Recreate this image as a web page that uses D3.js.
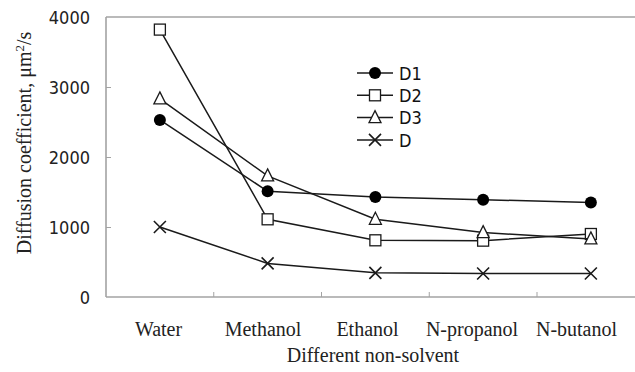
<!DOCTYPE html>
<html>
<head>
<meta charset="utf-8">
<script src="https://cdn.jsdelivr.net/npm/d3@7"></script>
<style>
  html, body { margin: 0; padding: 0; background: #fff; }
  svg { display: block; }
</style>
</head>
<body>
<svg id="chart" width="635" height="372"></svg>
<script>
// Non-solvents on the x axis
const categories = ["Water", "Methanol", "Ethanol", "N-propanol", "N-butanol"];
// Diffusion coefficients (µm²/s) for each series
const seriesD1 = [2530, 1510, 1430, 1390, 1350];
const seriesD2 = [3820, 1110, 810, 805, 900];
const seriesD3 = [2830, 1730, 1110, 920, 830];
const seriesD  = [1000, 480, 345, 335, 335];
const seriesNames = ["D1", "D2", "D3", "D"];
const yTicks = [0, 1000, 2000, 3000, 4000];

const series = [
  { name: seriesNames[0], values: seriesD1, symbol: "circle" },
  { name: seriesNames[1], values: seriesD2, symbol: "square" },
  { name: seriesNames[2], values: seriesD3, symbol: "triangle" },
  { name: seriesNames[3], values: seriesD,  symbol: "cross" }
];

const svg = d3.select("#chart");
const plotLeft = 106, plotTop = 17, plotBottom = 297;
const band = 107.75;

// Category bands (the plot runs past the right edge of the canvas)
const xBand = d3.scaleBand().domain(categories).range([plotLeft, plotLeft + band * categories.length]);
const x = d3.scalePoint().domain(categories).range([xBand("Water") + band / 2, xBand("N-butanol") + band / 2]);
const xLabel = d3.scalePoint().domain(categories).range([158, 576]);
const y = d3.scaleLinear().domain([0, 4000]).range([plotBottom, plotTop]);

const frame = "#a3a3a3";
const ink = "#1a1a1a";

// Plot frame: left, top and bottom edges
svg.append("line").attr("x1", plotLeft).attr("x2", 635).attr("y1", plotTop).attr("y2", plotTop)
  .attr("stroke", frame).attr("stroke-width", 1.6);
svg.append("line").attr("x1", plotLeft).attr("x2", 635).attr("y1", plotBottom).attr("y2", plotBottom)
  .attr("stroke", frame).attr("stroke-width", 1.6);
svg.append("line").attr("x1", plotLeft).attr("x2", plotLeft).attr("y1", plotTop).attr("y2", plotBottom)
  .attr("stroke", frame).attr("stroke-width", 1.6);

// Y axis: inward ticks and labels
const yAxis = svg.append("g").attr("transform", `translate(${plotLeft},0)`)
  .call(d3.axisLeft(y).tickValues(yTicks).tickFormat(d3.format("d")).tickSize(-5).tickPadding(16));
yAxis.select(".domain").remove();
yAxis.selectAll(".tick line").attr("stroke", frame).attr("stroke-width", 1)
  .filter(d => d === 0 || d === 4000).remove();
yAxis.selectAll(".tick text")
  .attr("font-family", "'DejaVu Sans Condensed', 'DejaVu Sans', sans-serif")
  .attr("font-size", 18).attr("fill", "#222").attr("dy", "0.38em");

// X axis: tick marks between categories
const bandEdges = categories.slice(1).map(c => xBand(c));
svg.append("g").selectAll("line").data(bandEdges).join("line")
  .attr("x1", d => d).attr("x2", d => d)
  .attr("y1", plotBottom).attr("y2", plotBottom - 5)
  .attr("stroke", frame).attr("stroke-width", 1);

// X axis category labels
const xAxis = svg.append("g").attr("transform", `translate(0,${plotBottom})`)
  .call(d3.axisBottom(xLabel).tickSize(0).tickPadding(25));
xAxis.select(".domain").remove();
xAxis.selectAll(".tick text")
  .attr("font-family", "'Liberation Serif', 'Times New Roman', serif")
  .attr("font-size", 20).attr("fill", "#222");

// Axis titles
svg.append("text")
  .attr("x", 373).attr("y", 362)
  .attr("text-anchor", "middle")
  .attr("font-family", "'Liberation Serif', 'Times New Roman', serif")
  .attr("font-size", 20).attr("fill", "#222")
  .text("Different non-solvent");

const yTitle = svg.append("text")
  .attr("transform", "translate(31,143) rotate(-90)")
  .attr("text-anchor", "middle")
  .attr("font-family", "'Liberation Serif', 'Times New Roman', serif")
  .attr("font-size", 20).attr("fill", "#222");
yTitle.append("tspan").text("Diffusion coefficient, μm");
yTitle.append("tspan").attr("font-size", 13).attr("dy", -7).text("2");
yTitle.append("tspan").attr("dy", 7).text("/s");

// Marker drawing
function drawMarker(g, symbol, cx, cy) {
  if (symbol === "circle") {
    g.append("circle").attr("cx", cx).attr("cy", cy).attr("r", 6).attr("fill", "#000");
  } else if (symbol === "square") {
    g.append("rect").attr("x", cx - 5.5).attr("y", cy - 5.5).attr("width", 11).attr("height", 11)
      .attr("fill", "#fff").attr("stroke", ink).attr("stroke-width", 1.3);
  } else if (symbol === "triangle") {
    g.append("path")
      .attr("d", `M${cx},${cy - 7}L${cx + 6},${cy + 5}L${cx - 6},${cy + 5}Z`)
      .attr("fill", "#fff").attr("stroke", ink).attr("stroke-width", 1.3);
  } else {
    g.append("path")
      .attr("d", `M${cx - 6},${cy - 6}L${cx + 6},${cy + 6}M${cx + 6},${cy - 6}L${cx - 6},${cy + 6}`)
      .attr("fill", "none").attr("stroke", ink).attr("stroke-width", 1.6);
  }
}

const line = d3.line().x((d, i) => x(categories[i])).y(d => y(d));

series.forEach(s => {
  const g = svg.append("g");
  g.append("path").datum(s.values).attr("d", line)
    .attr("fill", "none").attr("stroke", ink).attr("stroke-width", 1.5);
  s.values.forEach((v, i) => drawMarker(g, s.symbol, x(categories[i]), y(v)));
});

// Legend
const legend = svg.append("g");
series.forEach((s, i) => {
  const ly = 73 + i * 22.3;
  legend.append("line").attr("x1", 357).attr("x2", 393).attr("y1", ly).attr("y2", ly)
    .attr("stroke", ink).attr("stroke-width", 1.5);
  drawMarker(legend, s.symbol, 375, ly);
  legend.append("text").attr("x", 399).attr("y", ly).attr("dy", "0.38em")
    .attr("font-family", "'DejaVu Sans Condensed', 'DejaVu Sans', sans-serif")
    .attr("font-size", 18).attr("fill", "#111").text(s.name);
});
</script>
</body>
</html>
